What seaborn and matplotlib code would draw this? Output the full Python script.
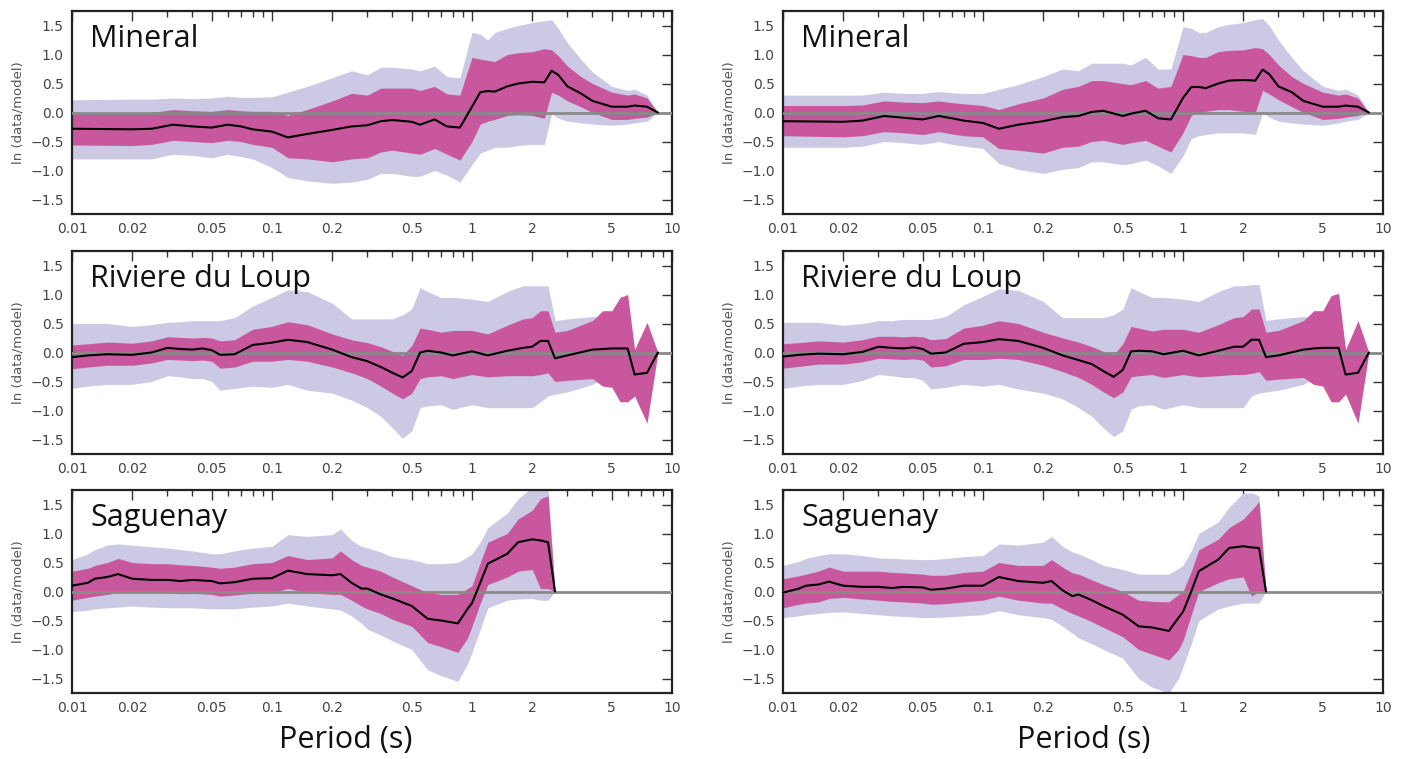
import numpy as np
import pandas as pd
import matplotlib
matplotlib.use("Agg")
import matplotlib.pyplot as plt
import seaborn as sns
from matplotlib.ticker import FixedLocator, FixedFormatter, NullFormatter

# ---------------- data ----------------
X_TICKS = [0.01, 0.02, 0.05, 0.1, 0.2, 0.5, 1, 2, 5, 10]
X_TICK_LABELS = ["0.01", "0.02", "0.05", "0.1", "0.2", "0.5", "1", "2", "5", "10"]
Y_TICKS = [-1.5, -1.0, -0.5, 0.0, 0.5, 1.0, 1.5]

SITES = ["Mineral", "Riviere du Loup", "Saguenay"]

P_MIN = [0.01, 0.02, 0.025, 0.032, 0.04, 0.05, 0.06, 0.07, 0.08, 0.1, 0.12, 0.15, 0.2, 0.25, 0.3,
         0.35, 0.4, 0.5, 0.55, 0.65, 0.75, 0.87, 1.0, 1.1, 1.2, 1.3, 1.5, 1.7, 2.0, 2.3, 2.5, 2.7,
         3.0, 3.5, 4.0, 5.0, 6.0, 6.5, 7.5, 8.5]

# Mineral, left column
MIN_L_MEAN = [-0.28, -0.29, -0.28, -0.21, -0.24, -0.26, -0.21, -0.24, -0.29, -0.33, -0.43, -0.37, -0.30,
              -0.24, -0.22, -0.15, -0.13, -0.16, -0.21, -0.12, -0.24, -0.26, 0.10, 0.35, 0.37, 0.36, 0.45,
              0.50, 0.53, 0.52, 0.72, 0.65, 0.45, 0.33, 0.20, 0.10, 0.10, 0.12, 0.10, 0.0]
MIN_L_S1_HI = [0.0, 0.0, 0.0, 0.05, 0.03, 0.02, 0.05, 0.03, 0.02, 0.02, -0.05, 0.05, 0.2, 0.33, 0.3, 0.42,
               0.42, 0.42, 0.38, 0.45, 0.32, 0.3, 0.95, 0.92, 0.9, 0.88, 1.0, 1.03, 1.05, 1.1, 1.08, 0.98,
               0.8, 0.62, 0.5, 0.35, 0.3, 0.32, 0.25, 0.0]
MIN_L_S1_LO = [-0.56, -0.57, -0.55, -0.48, -0.5, -0.52, -0.48, -0.5, -0.55, -0.6, -0.78, -0.8, -0.85, -0.8,
               -0.78, -0.68, -0.65, -0.7, -0.72, -0.62, -0.72, -0.82, -0.5, -0.2, -0.15, -0.12, -0.05, -0.04,
               -0.05, -0.1, 0.35, 0.3, 0.2, 0.1, 0.0, -0.12, -0.12, -0.1, -0.08, 0.0]
MIN_L_S2_HI = [0.22, 0.23, 0.23, 0.25, 0.24, 0.25, 0.28, 0.26, 0.26, 0.27, 0.35, 0.45, 0.6, 0.72, 0.65, 0.78,
               0.78, 0.75, 0.72, 0.8, 0.62, 0.6, 1.38, 1.35, 1.25, 1.38, 1.45, 1.5, 1.55, 1.58, 1.6, 1.45,
               1.2, 0.92, 0.7, 0.45, 0.38, 0.4, 0.3, 0.0]
MIN_L_S2_LO = [-0.8, -0.8, -0.8, -0.72, -0.74, -0.78, -0.72, -0.76, -0.8, -0.95, -1.12, -1.18, -1.22, -1.2,
               -1.15, -1.05, -1.05, -1.1, -1.1, -1.0, -1.08, -1.2, -0.9, -0.7, -0.65, -0.6, -0.6, -0.57,
               -0.55, -0.55, -0.02, -0.1, -0.15, -0.18, -0.2, -0.22, -0.2, -0.18, -0.15, 0.0]

# Mineral, right column
MIN_R_MEAN = [-0.15, -0.16, -0.14, -0.06, -0.09, -0.12, -0.06, -0.1, -0.14, -0.18, -0.28, -0.21, -0.15,
              -0.08, -0.06, 0.01, 0.03, -0.06, -0.02, 0.03, -0.1, -0.12, 0.25, 0.44, 0.44, 0.42, 0.5, 0.55,
              0.56, 0.55, 0.74, 0.66, 0.45, 0.35, 0.2, 0.1, 0.1, 0.12, 0.1, 0.0]
MIN_R_S1_HI = [0.12, 0.12, 0.13, 0.2, 0.18, 0.17, 0.2, 0.17, 0.15, 0.12, 0.05, 0.15, 0.25, 0.4, 0.45, 0.55,
               0.55, 0.5, 0.48, 0.55, 0.42, 0.45, 1.0, 0.98, 0.95, 0.95, 1.05, 1.07, 1.08, 1.12, 1.1, 1.0,
               0.82, 0.62, 0.5, 0.35, 0.3, 0.32, 0.25, 0.0]
MIN_R_S1_LO = [-0.4, -0.42, -0.4, -0.33, -0.35, -0.38, -0.33, -0.37, -0.4, -0.42, -0.62, -0.65, -0.7, -0.6,
               -0.58, -0.5, -0.48, -0.55, -0.52, -0.48, -0.58, -0.68, -0.35, -0.05, 0.0, 0.02, 0.05, 0.05,
               0.02, 0.0, 0.38, 0.32, 0.22, 0.1, 0.0, -0.12, -0.1, -0.08, -0.05, 0.0]
MIN_R_S2_HI = [0.3, 0.3, 0.3, 0.35, 0.33, 0.33, 0.36, 0.34, 0.33, 0.33, 0.4, 0.48, 0.62, 0.75, 0.72, 0.85,
               0.85, 0.85, 0.82, 0.95, 0.75, 0.75, 1.48, 1.45, 1.38, 1.38, 1.48, 1.52, 1.55, 1.6, 1.62, 1.5,
               1.25, 0.95, 0.72, 0.45, 0.38, 0.4, 0.3, 0.0]
MIN_R_S2_LO = [-0.6, -0.6, -0.58, -0.5, -0.52, -0.55, -0.5, -0.55, -0.58, -0.62, -0.88, -0.98, -1.05, -0.98,
               -0.95, -0.85, -0.85, -0.9, -0.88, -0.82, -0.92, -1.05, -0.75, -0.45, -0.4, -0.38, -0.35, -0.35,
               -0.35, -0.38, 0.0, -0.08, -0.15, -0.18, -0.2, -0.22, -0.18, -0.15, -0.12, 0.0]

P_RDL = [0.01, 0.012, 0.015, 0.02, 0.025, 0.03, 0.035, 0.04, 0.045, 0.05, 0.055, 0.065, 0.08, 0.1, 0.12,
         0.15, 0.2, 0.25, 0.3, 0.35, 0.4, 0.45, 0.5, 0.55, 0.6, 0.7, 0.8, 1.0, 1.2, 1.5, 1.8, 2.0, 2.2, 2.4,
         2.6, 3.0, 4.0, 4.5, 5.0, 5.5, 6.0, 6.5, 7.5, 8.5]

# Riviere du Loup, left column
RDL_L_MEAN = [-0.08, -0.05, -0.03, -0.04, 0.0, 0.08, 0.06, 0.05, 0.07, 0.04, -0.04, -0.03, 0.13, 0.17, 0.22,
              0.18, 0.05, -0.08, -0.15, -0.25, -0.35, -0.43, -0.32, 0.0, 0.03, 0.0, -0.05, 0.02, -0.05, 0.03,
              0.08, 0.1, 0.2, 0.2, -0.1, -0.05, 0.05, 0.06, 0.07, 0.07, 0.07, -0.38, -0.35, 0.0]
RDL_L_S1_HI = [0.13, 0.15, 0.18, 0.16, 0.2, 0.27, 0.26, 0.25, 0.26, 0.25, 0.2, 0.22, 0.4, 0.45, 0.53, 0.48,
               0.32, 0.22, 0.17, 0.1, 0.02, -0.05, 0.12, 0.42, 0.4, 0.35, 0.38, 0.38, 0.32, 0.47, 0.58, 0.6,
               0.72, 0.72, 0.35, 0.38, 0.55, 0.72, 0.72, 0.95, 1.0, 0.05, 0.52, 0.0]
RDL_L_S1_LO = [-0.28, -0.25, -0.22, -0.22, -0.18, -0.12, -0.13, -0.14, -0.13, -0.15, -0.27, -0.25, -0.15,
               -0.15, -0.12, -0.15, -0.25, -0.35, -0.45, -0.58, -0.7, -0.8, -0.7, -0.45, -0.42, -0.4, -0.45,
               -0.38, -0.42, -0.4, -0.4, -0.4, -0.38, -0.35, -0.5, -0.48, -0.45, -0.58, -0.6, -0.85, -0.85,
               -0.75, -1.22, 0.0]
RDL_L_S2_HI = [0.5, 0.5, 0.5, 0.45, 0.48, 0.52, 0.53, 0.55, 0.55, 0.55, 0.55, 0.6, 0.8, 0.95, 1.08, 1.05,
               0.85, 0.58, 0.58, 0.58, 0.58, 0.65, 0.75, 1.12, 1.05, 0.95, 0.95, 0.92, 0.88, 1.05, 1.15, 1.15,
               1.15, 1.15, 0.55, 0.58, 0.62, 0.6, 0.6, 0.6, 0.5, 0.0, 0.3, 0.0]
RDL_L_S2_LO = [-0.62, -0.58, -0.55, -0.55, -0.5, -0.4, -0.42, -0.45, -0.45, -0.5, -0.65, -0.62, -0.58, -0.6,
               -0.55, -0.65, -0.7, -0.82, -0.95, -1.1, -1.3, -1.48, -1.35, -0.95, -0.92, -0.9, -0.98, -0.9,
               -0.95, -0.95, -0.95, -0.95, -0.85, -0.75, -0.72, -0.68, -0.55, -0.45, -0.45, -0.45, -0.45,
               -0.4, -0.6, 0.0]

# Riviere du Loup, right column
RDL_R_MEAN = [-0.07, -0.04, -0.02, -0.03, 0.01, 0.1, 0.08, 0.07, 0.09, 0.06, -0.02, 0.0, 0.15, 0.18, 0.23,
              0.2, 0.08, -0.05, -0.13, -0.2, -0.32, -0.42, -0.3, 0.02, 0.03, 0.02, -0.03, 0.03, -0.05, 0.03,
              0.1, 0.1, 0.22, 0.22, -0.08, -0.05, 0.05, 0.07, 0.08, 0.08, 0.08, -0.38, -0.35, 0.0]
RDL_R_S1_HI = [0.15, 0.17, 0.2, 0.18, 0.22, 0.28, 0.28, 0.27, 0.28, 0.27, 0.22, 0.24, 0.42, 0.47, 0.55, 0.5,
               0.35, 0.25, 0.18, 0.1, 0.02, -0.04, 0.15, 0.45, 0.42, 0.37, 0.4, 0.4, 0.35, 0.48, 0.6, 0.62,
               0.75, 0.75, 0.35, 0.38, 0.55, 0.72, 0.72, 0.98, 1.02, 0.05, 0.55, 0.0]
RDL_R_S1_LO = [-0.27, -0.24, -0.2, -0.2, -0.16, -0.1, -0.11, -0.12, -0.11, -0.13, -0.25, -0.23, -0.12,
               -0.12, -0.1, -0.12, -0.22, -0.33, -0.43, -0.55, -0.68, -0.78, -0.68, -0.42, -0.4, -0.38,
               -0.43, -0.38, -0.42, -0.4, -0.38, -0.38, -0.36, -0.33, -0.48, -0.46, -0.43, -0.55, -0.58,
               -0.85, -0.85, -0.72, -1.22, 0.0]
RDL_R_S2_HI = [0.52, 0.52, 0.52, 0.47, 0.5, 0.55, 0.55, 0.57, 0.57, 0.57, 0.57, 0.62, 0.82, 0.97, 1.1, 1.07,
               0.88, 0.6, 0.6, 0.6, 0.6, 0.65, 0.75, 1.12, 1.05, 0.95, 0.95, 0.92, 0.88, 1.05, 1.15, 1.15,
               1.17, 1.17, 0.55, 0.58, 0.62, 0.6, 0.6, 0.6, 0.5, 0.0, 0.3, 0.0]
RDL_R_S2_LO = [-0.62, -0.58, -0.55, -0.55, -0.48, -0.38, -0.4, -0.43, -0.43, -0.48, -0.63, -0.6, -0.55,
               -0.58, -0.55, -0.63, -0.7, -0.8, -0.95, -1.1, -1.3, -1.45, -1.35, -0.98, -0.92, -0.9, -0.98,
               -0.9, -0.95, -0.95, -0.95, -0.95, -0.75, -0.7, -0.68, -0.65, -0.55, -0.45, -0.45, -0.45,
               -0.45, -0.4, -0.6, 0.0]

P_SAG = [0.01, 0.012, 0.013, 0.015, 0.017, 0.02, 0.025, 0.03, 0.035, 0.04, 0.05, 0.055, 0.065, 0.08, 0.1,
         0.12, 0.15, 0.2, 0.22, 0.25, 0.28, 0.3, 0.35, 0.4, 0.5, 0.6, 0.7, 0.85, 0.95, 1.0, 1.1, 1.2, 1.5,
         1.7, 2.0, 2.2, 2.4, 2.6]

# Saguenay, left column
SAG_L_MEAN = [0.1, 0.15, 0.22, 0.25, 0.3, 0.22, 0.2, 0.2, 0.18, 0.2, 0.18, 0.14, 0.16, 0.22, 0.23, 0.36, 0.3,
              0.28, 0.3, 0.15, 0.05, 0.05, -0.05, -0.12, -0.25, -0.47, -0.5, -0.55, -0.3, -0.2, 0.15, 0.48,
              0.65, 0.85, 0.9, 0.88, 0.85, 0.0]
SAG_L_S1_HI = [0.35, 0.4, 0.45, 0.5, 0.57, 0.5, 0.48, 0.48, 0.46, 0.45, 0.42, 0.4, 0.42, 0.48, 0.5, 0.62,
               0.55, 0.58, 0.7, 0.55, 0.45, 0.42, 0.35, 0.25, 0.1, -0.02, -0.05, -0.05, 0.05, 0.1, 0.5, 0.85,
               1.0, 1.25, 1.4, 1.6, 1.65, 0.0]
SAG_L_S1_LO = [-0.15, -0.1, -0.08, -0.05, -0.02, 0.0, -0.02, -0.02, -0.04, -0.03, -0.05, -0.08, -0.06,
               -0.03, -0.02, 0.05, -0.02, -0.05, -0.05, -0.15, -0.25, -0.3, -0.38, -0.48, -0.6, -0.88, -0.95,
               -1.05, -0.8, -0.6, -0.2, 0.12, 0.25, 0.35, 0.38, 0.05, 0.05, 0.0]
SAG_L_S2_HI = [0.55, 0.65, 0.72, 0.8, 0.82, 0.8, 0.77, 0.75, 0.72, 0.7, 0.65, 0.65, 0.7, 0.75, 0.78, 0.98,
               0.95, 0.98, 1.08, 0.88, 0.78, 0.75, 0.68, 0.6, 0.55, 0.48, 0.48, 0.5, 0.6, 0.65, 0.85, 1.1,
               1.35, 1.6, 1.8, 1.8, 1.8, 0.0]
SAG_L_S2_LO = [-0.35, -0.32, -0.3, -0.28, -0.27, -0.25, -0.27, -0.28, -0.28, -0.28, -0.3, -0.3, -0.3,
               -0.27, -0.25, -0.2, -0.25, -0.3, -0.32, -0.42, -0.55, -0.65, -0.75, -0.85, -1.0, -1.35, -1.45,
               -1.55, -1.25, -1.05, -0.65, -0.28, -0.15, -0.13, -0.12, -0.15, -0.15, 0.0]

# Saguenay, right column
SAG_R_MEAN = [-0.02, 0.05, 0.1, 0.12, 0.17, 0.1, 0.08, 0.08, 0.06, 0.08, 0.07, 0.03, 0.05, 0.1, 0.1, 0.25,
              0.18, 0.15, 0.18, 0.02, -0.08, -0.05, -0.15, -0.25, -0.4, -0.6, -0.62, -0.68, -0.45, -0.35, 0.0,
              0.35, 0.55, 0.75, 0.78, 0.76, 0.75, 0.0]
SAG_R_S1_HI = [0.22, 0.27, 0.3, 0.35, 0.42, 0.35, 0.35, 0.35, 0.33, 0.32, 0.3, 0.28, 0.28, 0.33, 0.35, 0.5,
               0.45, 0.45, 0.55, 0.42, 0.32, 0.3, 0.2, 0.12, 0.0, -0.15, -0.17, -0.18, -0.05, 0.0, 0.35, 0.72,
               0.9, 1.1, 1.25, 1.4, 1.55, 0.0]
SAG_R_S1_LO = [-0.28, -0.22, -0.2, -0.18, -0.12, -0.1, -0.13, -0.15, -0.17, -0.18, -0.2, -0.22, -0.21,
               -0.18, -0.15, -0.08, -0.15, -0.2, -0.2, -0.3, -0.38, -0.42, -0.52, -0.62, -0.78, -1.0, -1.08,
               -1.18, -1.0, -0.85, -0.4, 0.0, 0.15, 0.22, 0.25, -0.08, 0.0, 0.0]
SAG_R_S2_HI = [0.45, 0.52, 0.57, 0.62, 0.65, 0.65, 0.62, 0.58, 0.57, 0.56, 0.55, 0.55, 0.57, 0.6, 0.62, 0.82,
               0.8, 0.85, 0.95, 0.78, 0.68, 0.65, 0.55, 0.45, 0.38, 0.3, 0.3, 0.3, 0.4, 0.45, 0.7, 1.0, 1.2,
               1.45, 1.7, 1.7, 1.65, 0.0]
SAG_R_S2_LO = [-0.45, -0.42, -0.4, -0.38, -0.36, -0.35, -0.38, -0.4, -0.42, -0.43, -0.45, -0.45, -0.44,
               -0.42, -0.4, -0.33, -0.4, -0.45, -0.48, -0.6, -0.72, -0.8, -0.9, -1.0, -1.15, -1.5, -1.65,
               -1.75, -1.5, -1.3, -0.9, -0.5, -0.3, -0.25, -0.2, -0.2, -0.2, 0.0]

PANELS = [
    # (row, col, site, periods, mean, s1hi, s1lo, s2hi, s2lo)
    (0, 0, SITES[0], P_MIN, MIN_L_MEAN, MIN_L_S1_HI, MIN_L_S1_LO, MIN_L_S2_HI, MIN_L_S2_LO),
    (0, 1, SITES[0], P_MIN, MIN_R_MEAN, MIN_R_S1_HI, MIN_R_S1_LO, MIN_R_S2_HI, MIN_R_S2_LO),
    (1, 0, SITES[1], P_RDL, RDL_L_MEAN, RDL_L_S1_HI, RDL_L_S1_LO, RDL_L_S2_HI, RDL_L_S2_LO),
    (1, 1, SITES[1], P_RDL, RDL_R_MEAN, RDL_R_S1_HI, RDL_R_S1_LO, RDL_R_S2_HI, RDL_R_S2_LO),
    (2, 0, SITES[2], P_SAG, SAG_L_MEAN, SAG_L_S1_HI, SAG_L_S1_LO, SAG_L_S2_HI, SAG_L_S2_LO),
    (2, 1, SITES[2], P_SAG, SAG_R_MEAN, SAG_R_S1_HI, SAG_R_S1_LO, SAG_R_S2_HI, SAG_R_S2_LO),
]

# ---------------- style ----------------
sns.set_style("white")
plt.rcParams["font.family"] = ["DejaVu Sans"]

LAVENDER = "#cbc9e4"
MAGENTA = "#c9579e"
ZERO = "#8a8a8a"
TICK_COL = "#444444"

W, H = 1406, 759
fig = plt.figure(figsize=(W / 100, H / 100), dpi=100)
fig.patch.set_facecolor("white")

col_left = [72, 783]
ax_w = 600
row_top = [11, 251, 490]
ax_h = 203
xlabel_cx = [346, 1084]

minor_vals = []
for dec in [0.01, 0.1, 1]:
    for m in range(2, 10):
        v = round(dec * m, 4)
        if v not in X_TICKS:
            minor_vals.append(v)

for (r, c, site, per, mean, s1h, s1l, s2h, s2l) in PANELS:
    left = col_left[c] / W
    bottom = 1 - (row_top[r] + ax_h) / H
    ax = fig.add_axes([left, bottom, ax_w / W, ax_h / H])
    df = pd.DataFrame({"period": per, "mean": mean})
    ax.set_xscale("log")
    ax.fill_between(per, s2l, s2h, color=LAVENDER, lw=0, zorder=1)
    ax.fill_between(per, s1l, s1h, color=MAGENTA, lw=0, zorder=2)
    ax.axhline(0, color=ZERO, lw=2, zorder=3)
    sns.lineplot(data=df, x="period", y="mean", ax=ax, color="black", lw=1.5, zorder=4)
    ax.set_xlim(0.01, 10)
    ax.set_ylim(-1.75, 1.75)
    ax.xaxis.set_major_locator(FixedLocator(X_TICKS))
    ax.xaxis.set_major_formatter(FixedFormatter(X_TICK_LABELS))
    ax.xaxis.set_minor_locator(FixedLocator(minor_vals))
    ax.xaxis.set_minor_formatter(NullFormatter())
    ax.set_yticks(Y_TICKS)
    ax.set_yticklabels([f"{v:.1f}".replace("-", "\u2212") for v in Y_TICKS])
    ax.tick_params(axis="both", which="major", direction="in", length=7, width=1,
                   top=True, right=True, labelsize=10, labelcolor=TICK_COL, color="#333333", pad=6)
    ax.tick_params(axis="both", which="minor", direction="in", length=4, width=1,
                   top=True, right=True, color="#333333")
    for sp in ax.spines.values():
        sp.set_color("#222222")
        sp.set_linewidth(1.6)
    ax.set_xlabel("")
    ax.set_ylabel("ln (data/model)", fontsize=9.5, color="#555555", labelpad=4)
    ax.text(0.03, 0.86, site, transform=ax.transAxes, fontsize=22,
            family=["Open Sans", "DejaVu Sans"], color="#111111", va="center", ha="left", zorder=5)

for c in range(2):
    fig.text(xlabel_cx[c] / W, 1 - 740 / H, "Period (s)", fontsize=22,
             family=["Open Sans", "DejaVu Sans"], ha="center", va="center", color="#111111")

fig.savefig("out.png", dpi=100, facecolor="white")
